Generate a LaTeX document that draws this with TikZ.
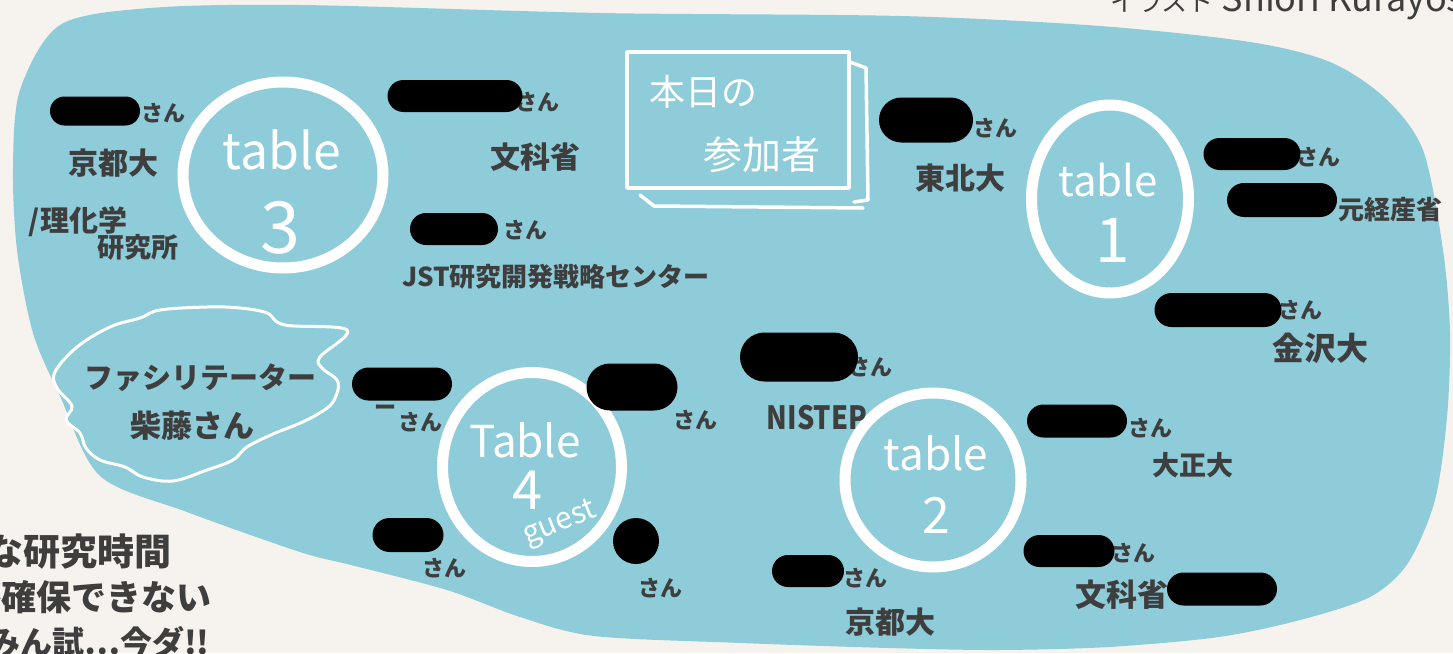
\documentclass[tikz,border=0pt]{standalone}
\usepackage{fontspec}
\newfontfamily\jp{Noto Sans CJK JP}
\usetikzlibrary{shapes.geometric,shapes.misc}
\definecolor{cream}{HTML}{F6F3EE}
\definecolor{blobc}{HTML}{8ECCD9}
\definecolor{ink}{HTML}{3E3E3E}
\tikzset{
  lbl/.style={text=ink, inner sep=0pt, font=\jp\bfseries\fontsize{#1}{#1}\selectfont},
  lbl/.default=28,
  wlbl/.style={text=white, inner sep=0pt, font=\jp\fontsize{#1}{#1}\selectfont},
  redact/.style={fill=black, rounded rectangle, inner sep=0pt, draw=none},
  tablering/.style={draw=white, line width=11pt, ellipse, inner sep=0pt},
  whiteline/.style={draw=white, line width=3.5pt, line cap=round, line join=round},
}
\begin{document}
\begin{tikzpicture}[x=1pt,y=-1pt]
\useasboundingbox (0,0) rectangle (1453,653);
\clip (0,0) rectangle (1453,653);
\fill[cream] (0,0) rectangle (1453,653);
% blue blob
\fill[blobc] plot[smooth cycle, tension=0.5] coordinates {
 (60,25) (150,8) (300,5) (600,13) (900,16) (1100,26) (1250,42) (1330,62)
 (1385,98) (1423,150) (1443,250) (1450,333) (1447,417) (1435,500) (1408,563)
 (1370,597) (1300,620) (1219,637) (1109,647) (998,650) (888,648) (741,643)
 (594,636) (520,617) (447,590) (351,565) (300,552) (187,512) (100,476)
 (60,396) (33,333) (17,250) (13,167) (20,90)};

% credit (cut at top)
\node[text=ink, inner sep=0pt, font=\jp\fontsize{36}{36}\selectfont, anchor=base west] (credit) at (1110,12) {{\fontsize{26}{26}\selectfont イラスト} Shiori Kurayoshi};

% bottom-left note (cut at left and bottom)
\node[lbl=37, anchor=east] (note1) at (172,552) {な研究時間};
\node[lbl=35, anchor=east] (note2) at (212,597) {が確保できない};
\node[lbl=32, anchor=west] (note3) at (-12,642) {みん試…今ダ!!};

% table rings
\node[tablering, minimum width=200pt, minimum height=186pt] (t3) at (283,175) {};
\node[tablering, minimum width=157pt, minimum height=188pt] (t1) at (1110,199) {};
\node[tablering, minimum width=179pt, minimum height=189pt] (t4) at (532,467) {};
\node[tablering, minimum width=176pt, minimum height=174pt] (t2) at (933,480) {};

% table labels
\node[wlbl=50] (t3a) at (282,150) {table};
\node[wlbl=72] (t3b) at (280,228) {3};
\node[wlbl=42] (t1a) at (1108,180) {table};
\node[wlbl=62] (t1b) at (1113,240) {1};
\node[wlbl=44] (t4a) at (525,440) {Table};
\node[wlbl=54] (t4b) at (527,490) {4};
\node[wlbl=30, rotate=22] (t4c) at (560,524) {guest};
\node[wlbl=44] (t2a) at (936,453) {table};
\node[wlbl=50] (t2b) at (936,515) {2};

% title box
\node[whiteline, minimum width=222pt, minimum height=136pt, inner sep=0pt] (box) at (738,120) {};
\draw[whiteline] (850,62) -- (866,68) -- (868,200) -- (854,202);
\draw[whiteline] (640,195) -- (654,206) -- (863,208);
\node[wlbl=36] (boxa) at (703,92) {本日の};
\node[wlbl=39] (boxb) at (762,155) {参加者};

% facilitator cloud
\draw[white, line width=3pt, fill=blobc] plot[smooth cycle, tension=0.6] coordinates {
 (55,372) (77,347) (110,327) (140,318) (160,310) (207,307) (240,308) (267,313)
 (285,325) (347,330) (320,357) (322,368) (338,382) (333,402) (318,414) (298,424)
 (273,434) (247,447) (233,460) (207,470) (173,481) (143,477) (125,467) (100,460)
 (86,448) (80,433) (66,420) (72,406) (57,388)};
\node[lbl=29] (fac1) at (200,378) {ファシリテーター};
\node[lbl=31] (fac2) at (192,426) {柴藤さん};

% ---- table 3 participants
\node[lbl=22] (s31) at (163,113) {さん};
\node[redact, minimum width=90pt, minimum height=29pt] (r31) at (95,111) {};
\node[lbl=30] (u31) at (113,163) {京都大};
\node[lbl=29] (u31b) at (78,222) {/理化学};
\node[lbl=27] (u31c) at (138,247) {研究所};
\node[lbl=22] (s32) at (537,102) {さん};
\node[redact, minimum width=135pt, minimum height=32pt] (r32) at (455,96) {};
\node[lbl=30] (u32) at (535,157) {文科省};
\node[lbl=22] (s33) at (525,230) {さん};
\node[redact, minimum width=88pt, minimum height=32pt] (r33) at (454,229) {};
\node[lbl=26] (u33) at (556,277) {JST研究開発戦略センター};

% ---- table 1 participants
\node[lbl=22] (s11) at (995,128) {さん};
\node[redact, minimum width=94pt, minimum height=45pt] (r11) at (926,120) {};
\node[lbl=30] (u11) at (960,178) {東北大};
\node[lbl=22] (s12) at (1318,157) {さん};
\node[redact, minimum width=97pt, minimum height=32pt] (r12) at (1252,154) {};
\node[lbl=26, anchor=west] (u12) at (1338,210) {元経産省};
\node[redact, minimum width=110pt, minimum height=34pt] (r13) at (1282,200) {};
\node[lbl=22] (s14) at (1300,310) {さん};
\node[redact, minimum width=127pt, minimum height=34pt] (r14) at (1218,310) {};
\node[lbl=32] (u14) at (1320,348) {金沢大};

% ---- table 4 participants
\node[lbl=22] (d41) at (385,410) {ー};
\node[lbl=22] (s41) at (420,422) {さん};
\node[redact, minimum width=100pt, minimum height=33pt] (r41) at (402,384) {};
\node[lbl=22] (s42) at (695,420) {さん};
\node[redact, minimum width=91pt, minimum height=47pt] (r42) at (632,387) {};
\node[lbl=22] (s43) at (444,568) {さん};
\node[redact, minimum width=71pt, minimum height=34pt] (r43) at (408,535) {};
\node[lbl=22] (s44) at (660,588) {さん};
\node[fill=black, circle, minimum size=46pt, inner sep=0pt] (r44) at (636,541) {};

% ---- table 2 participants
\node[lbl=22] (s21) at (870,367) {さん};
\node[redact, minimum width=118pt, minimum height=49pt] (r21) at (799,357) {};
\node[lbl=32, xscale=0.85] (u21) at (817,418) {NISTEP};
\node[lbl=22] (s22) at (1150,428) {さん};
\node[redact, minimum width=100pt, minimum height=33pt] (r22) at (1077,421) {};
\node[lbl=27] (u22) at (1193,465) {大正大};
\node[lbl=22] (s23) at (865,578) {さん};
\node[redact, minimum width=72pt, minimum height=32pt] (r23) at (808,571) {};
\node[lbl=30] (u23) at (890,622) {京都大};
\node[lbl=22] (s24) at (1133,553) {さん};
\node[redact, minimum width=91pt, minimum height=32pt] (r24) at (1069,551) {};
\node[lbl=31] (u24) at (1122,595) {文科省};
\node[redact, minimum width=110pt, minimum height=33pt] (r25) at (1222,589) {};
\end{tikzpicture}
\end{document}
